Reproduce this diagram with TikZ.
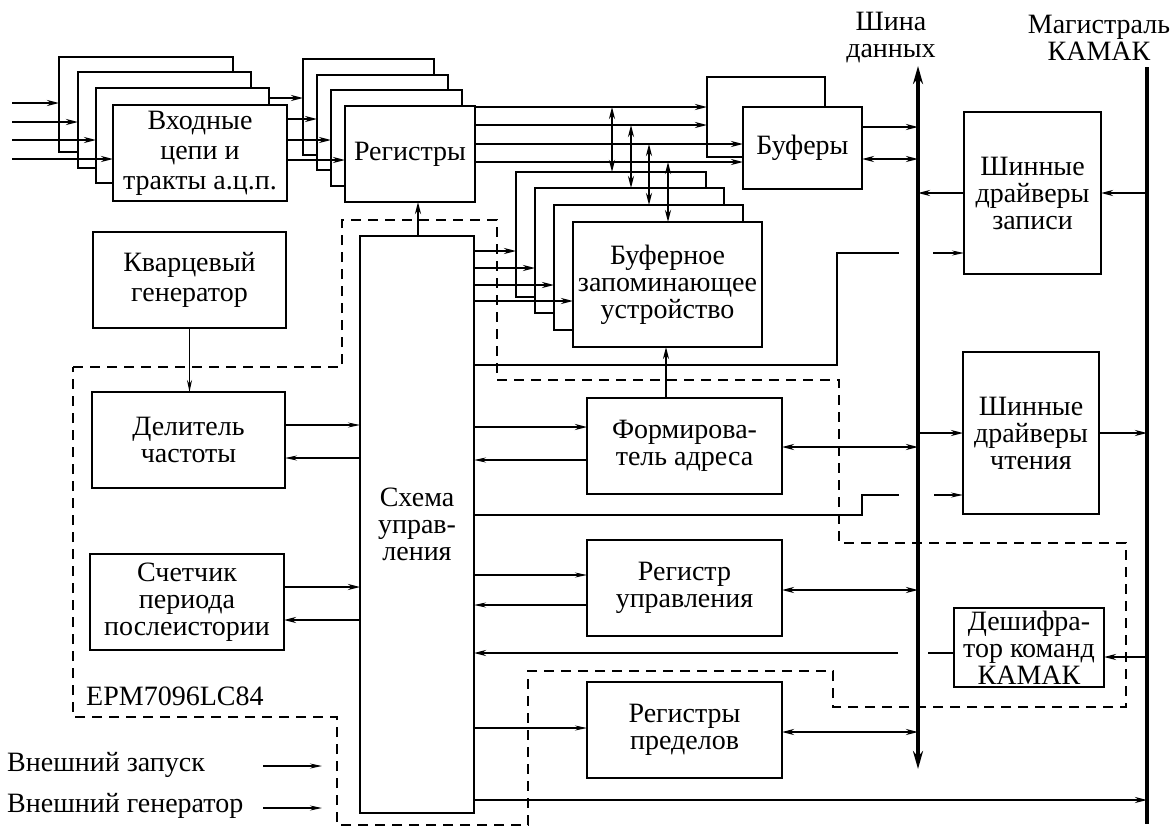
\documentclass[tikz,border=0pt]{standalone}
\usepackage{fontspec}
\setmainfont{Liberation Serif}
\usetikzlibrary{arrows.meta}
\begin{document}
\begin{tikzpicture}[x=1pt,y=-1pt,
  box/.style={draw, line width=1.5pt, fill=white, inner sep=0pt, outer sep=0pt, align=center, font=\fontsize{28}{27}\selectfont},
  wide/.style={font=\fontsize{28}{30}\selectfont},
  thk/.style={line width=1.9pt, -{Stealth[length=12pt,width=6pt]}},
  thn/.style={line width=1.2pt, -{Stealth[length=12pt,width=5pt]}},
  dbl/.style={line width=1.9pt, {Stealth[length=12pt,width=6pt]}-{Stealth[length=12pt,width=6pt]}},
  pl/.style={line width=1.2pt},
  pk/.style={line width=1.9pt},
  bus/.style={line width=4pt},
  busarr/.style={line width=4pt, {Stealth[length=18pt,width=10pt]}-{Stealth[length=18pt,width=10pt]}},
  chip/.style={line width=1.6pt, dash pattern=on 10pt off 7pt},
  lbl/.style={font=\fontsize{28}{27}\selectfont, align=center, inner sep=0pt}
]
\useasboundingbox (0,0) rectangle (1176,828);

% ---- chip outline (dashed)
\draw[chip] (73,367) -- (342,367) -- (342,220) -- (497,220) -- (497,380) -- (839,380)
  -- (839,543) -- (1126,543) -- (1126,707) -- (833,707) -- (833,671) -- (528,671)
  -- (528,825) -- (337,825) -- (337,717) -- (73,717) -- cycle;

% ---- input stack
\node[box, minimum width=174pt, minimum height=95pt] (in1) at (146,104.5) {};
\node[box, minimum width=173pt, minimum height=96pt] (in2) at (164.5,120) {};
\node[box, minimum width=173pt, minimum height=95pt] (in3) at (182.5,135.5) {};
\node[box, wide, minimum width=174pt, minimum height=96pt] (inp) at (200,153) {Входные\\цепи и\\тракты а.ц.п.};

% ---- register stack
\node[box, minimum width=131pt, minimum height=96pt] (rg1) at (368.5,107) {};
\node[box, minimum width=131pt, minimum height=95pt] (rg2) at (382.5,122.5) {};
\node[box, minimum width=131pt, minimum height=96pt] (rg3) at (396.5,138) {};
\node[box, minimum width=130pt, minimum height=96pt] (reg) at (410,154) {Регистры};

% ---- buffers
\node[box, minimum width=118pt, minimum height=80pt] (bf1) at (766,117) {};
\node[box, minimum width=119pt, minimum height=82pt] (buf) at (802.5,148) {Буферы};

% ---- buffer memory stack
\node[box, minimum width=190pt, minimum height=125pt] (mm1) at (611,234.5) {};
\node[box, minimum width=189pt, minimum height=125pt] (mm2) at (629.5,250.5) {};
\node[box, minimum width=189pt, minimum height=125pt] (mm3) at (648.5,267.5) {};
\node[box, minimum width=189pt, minimum height=125pt] (mem) at (667.5,284.5) {Буферное\\запоминающее\\устройство};

% ---- left column
\node[box, wide, minimum width=193pt, minimum height=96pt] (qz) at (189.5,280) {Кварцевый\\генератор};
\node[box, minimum width=193pt, minimum height=96pt] (dv) at (188.5,440) {Делитель\\частоты};
\node[box, minimum width=194pt, minimum height=96pt] (cnt) at (187,602) {Счетчик\\периода\\послеистории};

% ---- control
\node[box, minimum width=114pt, minimum height=577pt] (ctl) at (417,524.5) {Схема\\управ-\\ления};

% ---- middle column
\node[box, minimum width=195pt, minimum height=96pt] (adr) at (684.5,446) {Формирова-\\тель адреса};
\node[box, minimum width=195pt, minimum height=96pt] (crg) at (684.5,588) {Регистр\\управления};
\node[box, minimum width=195pt, minimum height=96pt] (lim) at (684.5,730) {Регистры\\пределов};

% ---- right column
\node[box, minimum width=137pt, minimum height=162pt] (wd) at (1032.5,193) {Шинные\\драйверы\\записи};
\node[box, minimum width=136pt, minimum height=162pt] (rd) at (1031,433) {Шинные\\драйверы\\чтения};
\node[box, minimum width=150pt, minimum height=79pt] (dec) at (1029,647.5) {Дешифра-\\тор команд\\КАМАК};

% ---- labels
\node[lbl] (shina) at (891,38) {Шина\\данных};
\node[lbl] (mag) at (1099,38) {Магистраль\\КАМАК};
\node[lbl, anchor=west] (epm) at (86,696) {EPM7096LC84};
\node[lbl, anchor=west] (vz) at (7,765) {Внешний запуск};
\node[lbl, anchor=west] (vg) at (7,806) {Внешний генератор};

% ---- buses
\coordinate (dbT) at (918,66);
\coordinate (dbB) at (918,769);
\coordinate (kmT) at (1147,67);
\coordinate (kmB) at (1147,824);
\draw[busarr] (dbB) -- (dbT);
\draw[bus] (kmT) -- (kmB);

% ---- inputs
\coordinate (s1) at (12,103);
\coordinate (s2) at (12,122);
\coordinate (s3) at (12,140);
\coordinate (s4) at (12,159);
\draw[thk] (s1) -- (in1.west |- s1);
\draw[thk] (s2) -- (in2.west |- s2);
\draw[thk] (s3) -- (in3.west |- s3);
\draw[thk] (s4) -- (inp.west |- s4);

% ---- input -> registers
\draw[thk] (in3.east |- 0,98) -- (rg1.west |- 0,98);
\draw[thk] (inp.east |- 0,119) -- (rg2.west |- 0,119);
\draw[thk] (inp.east |- 0,140) -- (rg3.west |- 0,140);
\draw[thk] (inp.east |- 0,160) -- (reg.west |- 0,160);

% ---- registers -> buffers
\draw[thk] (reg.east |- 0,107) -- (bf1.west |- 0,107);
\draw[thk] (reg.east |- 0,125) -- (bf1.west |- 0,125);
\draw[thk] (reg.east |- 0,144) -- (buf.west |- 0,144);
\draw[thk] (reg.east |- 0,162) -- (buf.west |- 0,162);

% ---- registers <-> buffer memory
\draw[dbl] (612,107) -- (mm1.north -| 612,0);
\draw[dbl] (631,125) -- (mm2.north -| 631,0);
\draw[dbl] (649,144) -- (mm3.north -| 649,0);
\draw[dbl] (668,162) -- (mem.north -| 668,0);

% ---- buffers -> data bus
\draw[thk] (buf.east |- 0,127) -- (dbT |- 0,127);
\draw[dbl] (buf.east |- 0,159) -- (dbT |- 0,159);

% ---- write drivers
\draw[thk] (kmT |- 0,193) -- (wd.east |- 0,193);
\draw[thk] (wd.west |- 0,193) -- (dbT |- 0,193);
\coordinate (h1a) at (899,253);
\coordinate (h1b) at (933,253);
\draw[pl] (ctl.east |- 0,365) -| (837,253) -- (h1a);
\draw[thn] (h1b) -- (wd.west |- h1b);

% ---- quartz, divider, counter
\draw[thn] (qz.south) -- (dv.north -| qz.south);
\draw[thn] (dv.east |- 0,425) -- (ctl.west |- 0,425);
\draw[thn] (ctl.west |- 0,458) -- (dv.east |- 0,458);
\draw[thk] (cnt.east |- 0,587) -- (ctl.west |- 0,587);
\draw[thk] (ctl.west |- 0,620) -- (cnt.east |- 0,620);

% ---- control -> registers, memory
\draw[thk] (ctl.north -| 418,0) -- (reg.south -| 418,0);
\draw[thk] (ctl.east |- 0,251) -- (mm1.west |- 0,251);
\draw[thk] (ctl.east |- 0,268) -- (mm2.west |- 0,268);
\draw[thk] (ctl.east |- 0,285) -- (mm3.west |- 0,285);
\draw[thk] (ctl.east |- 0,301) -- (mem.west |- 0,301);

% ---- address former
\draw[thk] (ctl.east |- 0,427) -- (adr.west |- 0,427);
\draw[thn] (adr.west |- 0,460) -- (ctl.east |- 0,460);
\draw[thk] (adr.north -| 666,0) -- (mem.south -| 666,0);
\draw[dbl] (adr.east |- 0,447) -- (dbT |- 0,447);

% ---- read drivers
\draw[thk] (dbT |- 0,433) -- (rd.west |- 0,433);
\draw[thk] (rd.east |- 0,433) -- (kmT |- 0,433);
\coordinate (h2a) at (899,495);
\coordinate (h2b) at (934,495);
\draw[pl] (ctl.east |- 0,515) -| (862,495) -- (h2a);
\draw[thn] (h2b) -- (rd.west |- h2b);

% ---- control register
\draw[thn] (ctl.east |- 0,575) -- (crg.west |- 0,575);
\draw[thn] (crg.west |- 0,605) -- (ctl.east |- 0,605);
\draw[dbl] (crg.east |- 0,590) -- (dbT |- 0,590);

% ---- decoder
\coordinate (h3a) at (898,653);
\coordinate (h3b) at (928,653);
\draw[pk] (dec.west |- h3b) -- (h3b);
\draw[thk] (h3a) -- (ctl.east |- h3a);
\draw[thk] (kmT |- 0,657) -- (dec.east |- 0,657);

% ---- limit registers
\draw[thn] (ctl.east |- 0,728) -- (lim.west |- 0,728);
\draw[dbl] (lim.east |- 0,732) -- (dbT |- 0,732);

% ---- control -> CAMAC
\draw[thk] (ctl.east |- 0,800) -- (kmT |- 0,800);

% ---- external inputs
\coordinate (vzA) at (263,766);
\coordinate (vzB) at (322,766);
\coordinate (vgA) at (263,808);
\coordinate (vgB) at (322,808);
\draw[thn] (vzA) -- (vzB);
\draw[thn] (vgA) -- (vgB);
\end{tikzpicture}
\end{document}
